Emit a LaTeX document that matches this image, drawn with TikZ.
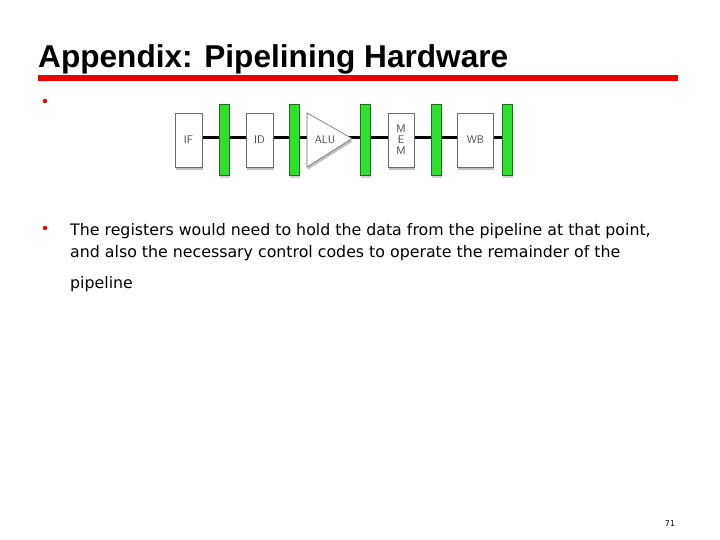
\documentclass[tikz,border=0pt]{standalone}
\usepackage{fontspec}
\setmainfont{DejaVu Sans}
\newfontfamily\titlefont{Liberation Sans}
\usepackage{xcolor}
\definecolor{barred}{HTML}{EE0000}
\definecolor{reggreen}{HTML}{2FE02F}
\definecolor{regedge}{HTML}{1F6F1F}
\definecolor{stagegray}{HTML}{6A6A6A}
\definecolor{stagetext}{HTML}{454545}
\usetikzlibrary{positioning,shadows}
\tikzset{
  stage/.style={draw=stagegray,fill=white,line width=0.6pt,align=center,inner sep=0pt,
    font=\sffamily\fontsize{11}{12}\selectfont,text=stagetext,minimum height=54pt,
    drop shadow={shadow xshift=0.5pt,shadow yshift=-3pt,opacity=0.5}},
  reg/.style={draw=regedge,fill=reggreen,line width=0.5pt,minimum width=10pt,minimum height=71pt,
    inner sep=0pt,drop shadow={shadow xshift=0.5pt,shadow yshift=-3pt,opacity=0.35}},
  wire/.style={draw=black,line width=3pt},
  bodytxt/.style={anchor=base west,inner sep=0pt,font=\fontsize{15.8}{18}\selectfont},
  dot/.style={circle,fill=barred,inner sep=0pt,minimum size=4.5pt},
}
\begin{document}
\begin{tikzpicture}[x=1pt,y=-1pt]
  \useasboundingbox[fill=white] (0,0) rectangle (720,540);
  % heading
  \node[anchor=base west,inner sep=0pt,font=\titlefont\bfseries\fontsize{31.6}{34}\selectfont] (title) at (38,68) {Appendix: Pipelining Hardware};
  \fill[barred] (38,75) rectangle (678,81);
  % bullets
  \node[dot] (b1) at (45,101) {};
  \node[dot] (b2) at (45,228) {};
  \node[bodytxt] (l1) at (70,236) {The registers would need to hold the data from the pipeline at that point,};
  \node[bodytxt] (l2) at (70,257) {and also the necessary control codes to operate the remainder of the};
  \node[bodytxt] (l3) at (70,288) {pipeline};
  % pipeline wire
  \coordinate (wstart) at (190,138);
  \coordinate (wend) at (507,138);
  \draw[wire] (wstart) -- (wend);
  % stages
  \node[stage,minimum width=27pt] (if) at (188.5,140) {IF};
  \node[stage,minimum width=27pt] (id) at (259.5,140) {ID};
  \filldraw[draw=stagegray,fill=white,line width=0.6pt,drop shadow={shadow xshift=0.5pt,shadow yshift=-3pt,opacity=0.5}]
    (307,113) -- (352,138.5) -- (307,167) -- cycle;
  \node[font=\sffamily\fontsize{11}{12}\selectfont,text=stagetext] (alu) at (325,140) {ALU};
  \node[stage,minimum width=26pt] (mem) at (401,140) {M\\[-1pt]E\\[-1pt]M};
  \node[stage,minimum width=36pt] (wb) at (475.5,140) {WB};
  % pipeline registers
  \foreach \x [count=\i] in {224,294,365,436,507}{
    \node[reg] (r\i) at (\x,139.5) {};
  }
  % page number
  \node[font=\fontsize{8}{9}\selectfont] (pg) at (670,524) {71};
\end{tikzpicture}
\end{document}
